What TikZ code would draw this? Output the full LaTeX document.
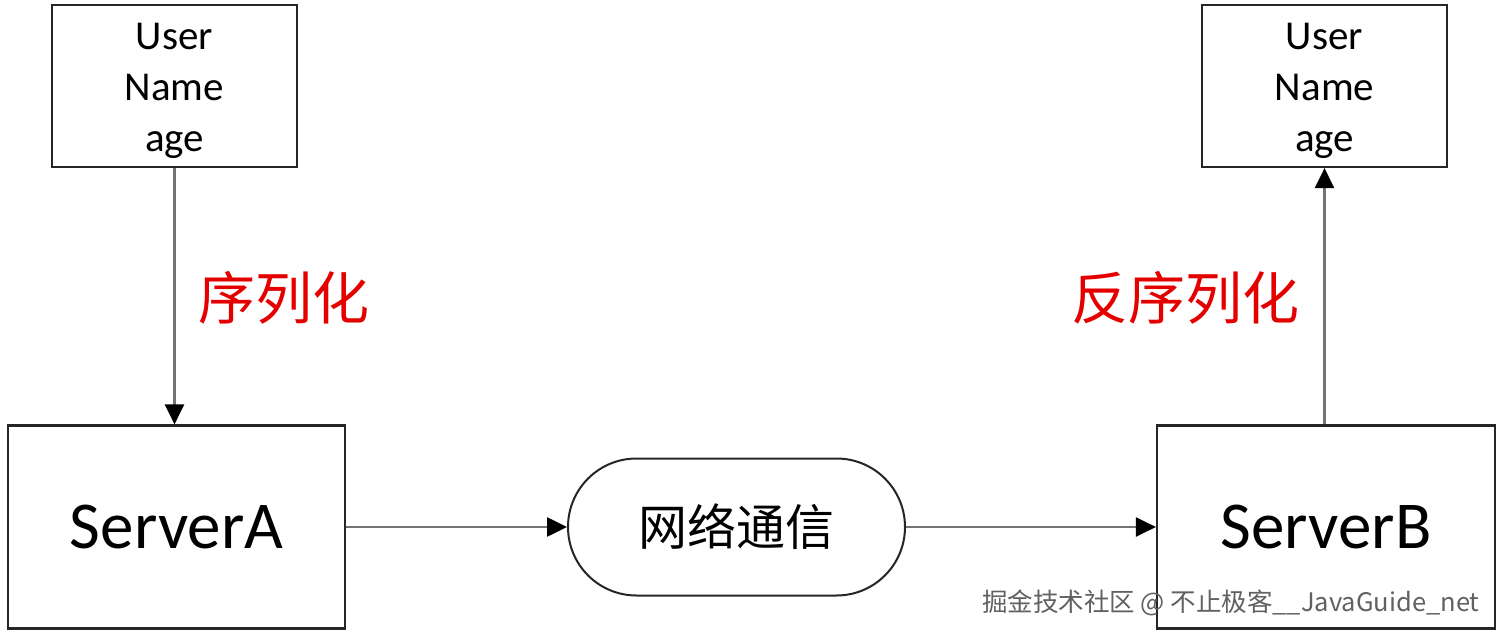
\documentclass[tikz,border=0pt]{standalone}
\usepackage{fontspec}
\setmainfont{Carlito}
\newfontfamily\cjk{Noto Sans CJK SC}
\usetikzlibrary{arrows.meta,shapes.misc}
\begin{document}
\begin{tikzpicture}[x=1pt,y=-1pt,
  box/.style={draw=black!85,line width=2.2pt,minimum width=#1,inner sep=0pt},
  ubox/.style={box=245pt,minimum height=162pt,label={[align=center,font=\fontsize{41}{51}\selectfont,yshift=-5pt]center:User\\Name\\age}},
  conn/.style={draw=black!55,line width=2.6pt,-{Triangle[length=20pt,width=19pt,color=black]}},
  lbl/.style={text=red!90!black,font=\cjk\fontsize{57}{62}\selectfont}]
\useasboundingbox (0,0) rectangle (1500,636);
\fill[white] (0,0) rectangle (1500,636);
\node[ubox] (u1) at (174.5,86) {};
\node[ubox] (u2) at (1324.5,86) {};
\node[box=337pt,minimum height=203pt,font=\fontsize{67}{72}\selectfont] (sa) at (176.5,527) {ServerA};
\node[box=338pt,minimum height=203pt,font=\fontsize{67}{72}\selectfont] (sb) at (1326,527) {ServerB};
\node[draw=black!85,line width=2pt,rounded rectangle,minimum width=337pt,minimum height=137pt,inner sep=0pt,font=\cjk\fontsize{49}{52}\selectfont] (net) at (736.5,527) {网络通信};
\draw[conn] (u1.south) -- (sa.north-|u1.south);
\draw[conn] (sb.north-|u2.south) -- (u2.south);
\draw[conn] (sa.east) -- (net.west);
\draw[conn] (net.east) -- (sb.west);
\node[lbl] (l1) at (284,298) {序列化};
\node[lbl] (l2) at (1185,298) {反序列化};
\node[anchor=east,font=\cjk\fontsize{25.5}{28}\selectfont,text=black!62] (wm) at (1483,603) {掘金技术社区 @ 不止极客\_\_JavaGuide\_net};
\end{tikzpicture}
\end{document}
